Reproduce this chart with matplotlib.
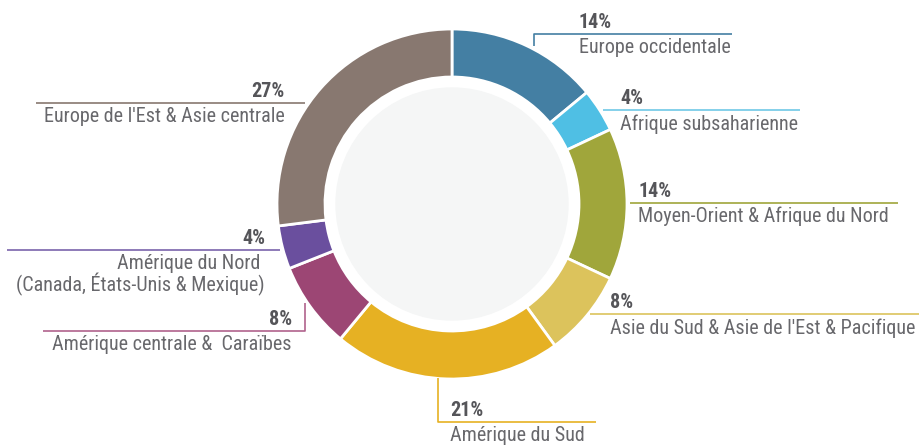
import matplotlib.pyplot as plt
from matplotlib.patches import Circle
from matplotlib import font_manager

# Data
regions = ["Europe occidentale", "Afrique subsaharienne", "Moyen-Orient & Afrique du Nord",
           "Asie du Sud & Asie de l'Est & Pacifique", "Amérique du Sud",
           "Amérique centrale &  Caraïbes", "Amérique du Nord \n(Canada, États-Unis & Mexique)",
           "Europe de l'Est & Asie centrale"]
shares = [14, 4, 14, 8, 21, 8, 4, 27]
colors = ["#447fa3", "#4fbfe4", "#a0a63b", "#dcc35c", "#e6b123", "#9c4674", "#6a4f9e", "#887870"]

# Pick a narrow font if one is installed
names = {f.name for f in font_manager.fontManager.ttflist}
family, size = "Roboto", 13
for cand in ["Roboto Condensed", "Liberation Sans Narrow", "Open Sans Condensed"]:
    if cand in names:
        family, size = cand, 14.5
        break

W, H = 919, 446
fig = plt.figure(figsize=(W / 100, H / 100), dpi=100)
ax = fig.add_axes([0, 0, 1, 1])

cx, cy, R = 452, H - 204, 175
ax.pie(shares, colors=colors, startangle=90, counterclock=False, radius=R, center=(cx, cy),
       wedgeprops=dict(width=48, edgecolor="white", linewidth=2), frame=True)
ax.set_xlim(0, W)
ax.set_ylim(0, H)
ax.set_aspect("equal")
ax.axis("off")
ax.add_patch(Circle((cx, cy), 116, color="#f5f6f6", zorder=3))


def y(p):
    return H - p


# leader lines in pixel coords + text anchor
leaders = [
    ([534, 534, 732], [46, 34, 34], 579, 34, "left"),
    ([603, 800], [110, 110], 620, 110, "left"),
    ([630, 898], [203, 203], 638, 203, "left"),
    ([590, 919], [314, 314], 610, 314, "left"),
    ([438, 438, 596], [378, 422, 422], 450, 422, "left"),
    ([305, 305, 43], [303, 331, 331], 292, 331, "right"),
    ([280, 7], [250, 250], 265, 250, "right"),
    ([305, 36], [103, 103], 285, 103, "right"),
]
line_colors = ["#447fa3", "#6fc8e6", "#a0a63b", "#dcc35c", "#e6b123", "#b0628c", "#7a64ac", "#887870"]

for (xs, ys, tx, ty, ha), lc, name, s in zip(leaders, line_colors, regions, shares):
    ax.plot(xs, [y(v) for v in ys], color=lc, lw=1.2, solid_capstyle="butt", zorder=4)
    ax.text(tx, y(ty) + 2, f"{s}%", ha=ha, va="bottom", fontsize=size, fontweight="bold",
            color="#555559", family=family)
    ax.text(tx, y(ty) - 4, name, ha=ha, va="top", fontsize=size, color="#68686c", family=family,
            multialignment="right" if ha == "right" else "left", linespacing=1.0)

fig.savefig("out.png", dpi=100)
